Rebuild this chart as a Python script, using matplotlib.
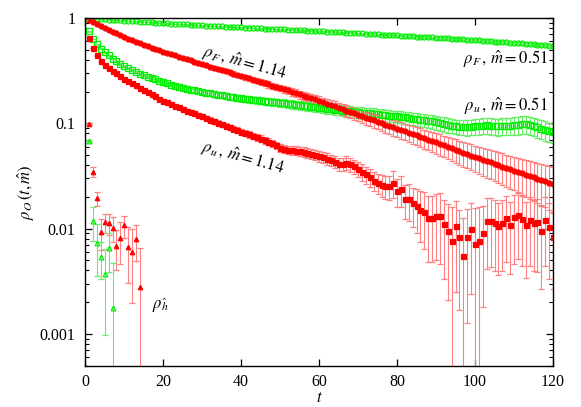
import matplotlib
matplotlib.use("Agg")
import matplotlib.pyplot as plt
import numpy as np
from matplotlib.ticker import FuncFormatter, LogLocator, NullLocator, MultipleLocator

plt.rcParams['font.family'] = ['Liberation Serif', 'DejaVu Serif']
plt.rcParams['mathtext.fontset'] = 'stix'

# time slices 0..120
t = np.arange(121)

# rho_F, m = 0.51 (green open circles)
gF = [1.000, 0.994, 0.989, 0.984, 0.978, 0.973, 0.967, 0.962, 0.956, 0.951,
      0.946, 0.940, 0.935, 0.929, 0.924, 0.918, 0.913, 0.907, 0.902, 0.896,
      0.891, 0.887, 0.883, 0.879, 0.875, 0.872, 0.868, 0.864, 0.860, 0.856,
      0.852, 0.848, 0.844, 0.840, 0.836, 0.833, 0.829, 0.825, 0.821, 0.817,
      0.813, 0.810, 0.807, 0.804, 0.800, 0.797, 0.794, 0.791, 0.788, 0.785,
      0.782, 0.778, 0.775, 0.772, 0.769, 0.766, 0.763, 0.759, 0.756, 0.753,
      0.750, 0.747, 0.743, 0.740, 0.737, 0.734, 0.730, 0.727, 0.724, 0.720,
      0.717, 0.714, 0.710, 0.707, 0.704, 0.701, 0.697, 0.694, 0.691, 0.687,
      0.684, 0.681, 0.677, 0.674, 0.671, 0.667, 0.664, 0.661, 0.657, 0.654,
      0.651, 0.647, 0.644, 0.641, 0.637, 0.634, 0.630, 0.627, 0.624, 0.620,
      0.617, 0.613, 0.610, 0.606, 0.602, 0.598, 0.595, 0.591, 0.587, 0.584,
      0.580, 0.576, 0.573, 0.569, 0.565, 0.561, 0.558, 0.554, 0.550, 0.547,
      0.543]
gF_rel = [0.000, 0.002, 0.002, 0.003, 0.003, 0.003, 0.003, 0.004, 0.004, 0.004,
          0.004, 0.004, 0.005, 0.005, 0.005, 0.005, 0.005, 0.006, 0.006, 0.006,
          0.006, 0.006, 0.006, 0.007, 0.007, 0.007, 0.007, 0.007, 0.008, 0.008,
          0.008, 0.008, 0.008, 0.008, 0.009, 0.009, 0.009, 0.009, 0.009, 0.010,
          0.010, 0.010, 0.010, 0.010, 0.010, 0.011, 0.011, 0.011, 0.011, 0.011,
          0.012, 0.012, 0.012, 0.012, 0.012, 0.012, 0.013, 0.013, 0.013, 0.013,
          0.013, 0.014, 0.014, 0.014, 0.014, 0.014, 0.015, 0.015, 0.015, 0.015,
          0.015, 0.016, 0.016, 0.016, 0.016, 0.016, 0.017, 0.017, 0.017, 0.017,
          0.017, 0.018, 0.018, 0.018, 0.018, 0.018, 0.019, 0.019, 0.019, 0.019,
          0.019, 0.020, 0.020, 0.020, 0.020, 0.020, 0.021, 0.021, 0.021, 0.021,
          0.021, 0.022, 0.022, 0.022, 0.022, 0.022, 0.023, 0.023, 0.023, 0.023,
          0.023, 0.024, 0.024, 0.024, 0.024, 0.024, 0.025, 0.025, 0.025, 0.025,
          0.025]

# rho_u, m = 0.51 (green open squares)
gU = [1.000, 0.746, 0.631, 0.562, 0.513, 0.473, 0.442, 0.412, 0.389, 0.367,
      0.347, 0.333, 0.320, 0.308, 0.296, 0.285, 0.277, 0.269, 0.261, 0.253,
      0.245, 0.239, 0.233, 0.228, 0.222, 0.216, 0.212, 0.208, 0.205, 0.201,
      0.197, 0.195, 0.192, 0.189, 0.187, 0.184, 0.182, 0.179, 0.177, 0.174,
      0.172, 0.170, 0.169, 0.167, 0.166, 0.164, 0.163, 0.161, 0.160, 0.158,
      0.157, 0.155, 0.153, 0.152, 0.150, 0.149, 0.147, 0.146, 0.144, 0.143,
      0.141, 0.140, 0.138, 0.137, 0.135, 0.134, 0.132, 0.131, 0.130, 0.128,
      0.127, 0.126, 0.125, 0.124, 0.123, 0.122, 0.121, 0.119, 0.118, 0.117,
      0.116, 0.115, 0.114, 0.112, 0.111, 0.110, 0.108, 0.107, 0.105, 0.104,
      0.102, 0.100, 0.0986, 0.0968, 0.0951, 0.0933, 0.0925, 0.0918, 0.0912, 0.0923,
      0.0933, 0.0940, 0.0948, 0.0955, 0.0946, 0.0938, 0.0933, 0.0940, 0.0946, 0.0951,
      0.0955, 0.0966, 0.0982, 0.0989, 0.0966, 0.0938, 0.0912, 0.0887, 0.0863, 0.0841,
      0.0822]
gU_rel = [0.000, 0.006, 0.008, 0.009, 0.010, 0.011, 0.012, 0.013, 0.014, 0.015,
          0.016, 0.017, 0.018, 0.019, 0.020, 0.021, 0.022, 0.023, 0.024, 0.025,
          0.026, 0.028, 0.030, 0.032, 0.034, 0.036, 0.038, 0.040, 0.042, 0.044,
          0.046, 0.048, 0.050, 0.052, 0.054, 0.056, 0.058, 0.060, 0.062, 0.064,
          0.066, 0.068, 0.070, 0.072, 0.074, 0.076, 0.078, 0.080, 0.082, 0.084,
          0.086, 0.088, 0.090, 0.092, 0.094, 0.095, 0.096, 0.097, 0.098, 0.099,
          0.100, 0.102, 0.104, 0.106, 0.108, 0.110, 0.112, 0.114, 0.116, 0.118,
          0.120, 0.121, 0.122, 0.123, 0.124, 0.125, 0.126, 0.127, 0.128, 0.129,
          0.130, 0.132, 0.134, 0.136, 0.138, 0.140, 0.142, 0.144, 0.146, 0.148,
          0.150, 0.152, 0.154, 0.156, 0.158, 0.160, 0.162, 0.164, 0.166, 0.168,
          0.170, 0.172, 0.174, 0.176, 0.178, 0.180, 0.182, 0.184, 0.186, 0.188,
          0.190, 0.192, 0.194, 0.196, 0.198, 0.200, 0.202, 0.204, 0.206, 0.208,
          0.210]

# rho_F, m = 1.14 (red filled circles)
rF = [1.000, 0.955, 0.912, 0.875, 0.839, 0.804, 0.773, 0.744, 0.715, 0.687,
      0.661, 0.638, 0.617, 0.596, 0.575, 0.556, 0.540, 0.524, 0.508, 0.493,
      0.479, 0.466, 0.453, 0.441, 0.429, 0.417, 0.406, 0.395, 0.384, 0.373,
      0.363, 0.354, 0.345, 0.337, 0.328, 0.320, 0.312, 0.304, 0.297, 0.289,
      0.282, 0.275, 0.267, 0.260, 0.254, 0.247, 0.241, 0.234, 0.228, 0.222,
      0.216, 0.210, 0.205, 0.199, 0.194, 0.188, 0.183, 0.178, 0.174, 0.169,
      0.164, 0.159, 0.154, 0.150, 0.145, 0.141, 0.136, 0.132, 0.128, 0.124,
      0.120, 0.117, 0.113, 0.110, 0.107, 0.103, 0.100, 0.0973, 0.0944, 0.0917,
      0.0891, 0.0865, 0.0839, 0.0815, 0.0791, 0.0767, 0.0745, 0.0723, 0.0701, 0.0681,
      0.0661, 0.0640, 0.0620, 0.0600, 0.0581, 0.0563, 0.0545, 0.0527, 0.0511, 0.0494,
      0.0479, 0.0465, 0.0451, 0.0438, 0.0425, 0.0412, 0.0400, 0.0388, 0.0377, 0.0366,
      0.0355, 0.0345, 0.0334, 0.0325, 0.0315, 0.0306, 0.0297, 0.0288, 0.0280, 0.0271,
      0.0263]
rF_rel = [0.000, 0.003, 0.004, 0.005, 0.006, 0.007, 0.008, 0.009, 0.010, 0.011,
          0.012, 0.013, 0.014, 0.015, 0.016, 0.017, 0.018, 0.019, 0.020, 0.021,
          0.022, 0.023, 0.024, 0.025, 0.026, 0.027, 0.028, 0.029, 0.030, 0.031,
          0.032, 0.034, 0.036, 0.038, 0.040, 0.042, 0.044, 0.046, 0.048, 0.050,
          0.052, 0.054, 0.056, 0.058, 0.060, 0.062, 0.064, 0.066, 0.068, 0.070,
          0.072, 0.075, 0.078, 0.081, 0.084, 0.087, 0.090, 0.093, 0.096, 0.099,
          0.102, 0.105, 0.108, 0.111, 0.114, 0.117, 0.120, 0.123, 0.126, 0.129,
          0.132, 0.136, 0.140, 0.144, 0.148, 0.152, 0.156, 0.160, 0.164, 0.168,
          0.172, 0.177, 0.182, 0.187, 0.192, 0.197, 0.202, 0.207, 0.212, 0.217,
          0.222, 0.228, 0.234, 0.240, 0.246, 0.252, 0.258, 0.264, 0.270, 0.276,
          0.282, 0.289, 0.296, 0.303, 0.310, 0.317, 0.324, 0.331, 0.338, 0.345,
          0.352, 0.362, 0.372, 0.382, 0.392, 0.402, 0.412, 0.422, 0.432, 0.442,
          0.452]

# rho_u, m = 1.14 (red filled squares), stored as log10
rU_log = [0.000, -0.190, -0.285, -0.355, -0.410, -0.445, -0.475, -0.500, -0.525, -0.550,
          -0.575, -0.597, -0.619, -0.641, -0.663, -0.685, -0.705, -0.725, -0.745, -0.765,
          -0.785, -0.800, -0.818, -0.835, -0.850, -0.865, -0.880, -0.893, -0.907, -0.920,
          -0.935, -0.950, -0.965, -0.980, -0.995, -1.010, -1.023, -1.037, -1.050, -1.065,
          -1.080, -1.092, -1.105, -1.120, -1.132, -1.145, -1.160, -1.175, -1.190, -1.210,
          -1.235, -1.245, -1.250, -1.255, -1.260, -1.265, -1.272, -1.280, -1.290, -1.300,
          -1.310, -1.320, -1.335, -1.350, -1.365, -1.390, -1.385, -1.375, -1.390, -1.410,
          -1.435, -1.460, -1.485, -1.510, -1.545, -1.570, -1.585, -1.595, -1.600, -1.565,
          -1.640, -1.625, -1.720, -1.720, -1.760, -1.785, -1.823, -1.846, -1.902, -1.896,
          -1.877, -1.880, -1.956, -2.020, -2.115, -1.980, -2.077, -2.260, -2.077, -2.000,
          -2.146, -2.115, -2.045, -1.925, -1.925, -1.950, -1.975, -1.950, -1.902, -1.966,
          -1.893, -1.871, -1.910, -1.970, -1.915, -1.950, -1.940, -2.020, -1.915, -1.985,
          -2.077]
rU_rel = [0.000, 0.005, 0.007, 0.009, 0.010, 0.011, 0.012, 0.013, 0.014, 0.015,
          0.016, 0.017, 0.018, 0.019, 0.020, 0.021, 0.022, 0.023, 0.024, 0.025,
          0.026, 0.027, 0.028, 0.030, 0.032, 0.034, 0.036, 0.038, 0.040, 0.042,
          0.044, 0.046, 0.048, 0.050, 0.052, 0.054, 0.056, 0.058, 0.060, 0.062,
          0.064, 0.066, 0.068, 0.070, 0.072, 0.074, 0.076, 0.078, 0.080, 0.082,
          0.085, 0.088, 0.091, 0.094, 0.097, 0.100, 0.103, 0.106, 0.109, 0.112,
          0.115, 0.120, 0.125, 0.130, 0.135, 0.140, 0.145, 0.150, 0.155, 0.160,
          0.165, 0.175, 0.185, 0.195, 0.205, 0.215, 0.230, 0.245, 0.260, 0.280,
          0.300, 0.320, 0.350, 0.380, 0.410, 0.450, 0.500, 0.550, 0.620, 0.620,
          0.620, 0.650, 0.700, 0.780, 1.100, 0.760, 0.800, 1.300, 0.850, 0.760,
          1.200, 1.100, 0.800, 0.650, 0.640, 0.650, 0.660, 0.650, 0.620, 0.660,
          0.640, 0.620, 0.640, 0.680, 0.640, 0.650, 0.660, 0.720, 0.640, 0.680,
          0.680]

# rho_h (triangles), only the first few slices are above the noise
tH_red = [0, 1, 2, 3, 4, 5, 6, 7, 8, 9, 10, 11, 12, 13, 14]
rH = [1.0, 0.098, 0.0347, 0.0194, 0.0092, 0.0115, 0.0112, 0.0101, 0.00684, 0.0081,
      0.0107, 0.00673, 0.00596, 0.0079, 0.00277]
rH_err = [0.0, 0.002, 0.004, 0.003, 0.003, 0.0024, 0.0025, 0.0027, 0.0028, 0.0035,
          0.0026, 0.0037, 0.004, 0.003, 0.0038]
tH_green = [0, 1, 2, 3, 4, 5, 6, 7]
gH = [1.0, 0.068, 0.0119, 0.00735, 0.0054, 0.00368, 0.0065, 0.00175]
gH_err = [0.0, 0.002, 0.0042, 0.0038, 0.0021, 0.0027, 0.0026, 0.003]

RED, RED_BAR = '#ff0000', '#ff8080'
GREEN, GREEN_BAR = '#00ee00', '#66ee66'

fig = plt.figure(figsize=(5.81, 4.07), dpi=100)
ax = fig.add_axes([85.3 / 581, 41 / 407, 467.7 / 581, 348 / 407])
ax.set_yscale('log')

def series(x, y, err, marker, color, barcolor, filled, ms):
    y = np.asarray(y)
    ax.errorbar(x, y, yerr=err, fmt=marker, ms=ms, mew=0.9,
                mfc=color if filled else 'none', mec=color,
                ecolor=barcolor, elinewidth=0.8, capsize=2.2, capthick=0.8)

gF_v = np.array(gF)
gU_v = np.array(gU)
rF_v = np.array(rF)
rU_v = 10.0 ** np.array(rU_log)

series(t, gF_v, gF_v * np.array(gF_rel), 'o', GREEN, GREEN_BAR, False, 3.6)
series(t, gU_v, gU_v * np.array(gU_rel), 's', GREEN, GREEN_BAR, False, 4.2)
series(t, rF_v, rF_v * np.array(rF_rel), 'o', RED, RED_BAR, True, 3.6)
series(t, rU_v, rU_v * np.array(rU_rel), 's', RED, RED_BAR, True, 3.6)
series(tH_red, rH, rH_err, '^', RED, RED_BAR, True, 3.2)
series(tH_green, gH, gH_err, '^', GREEN, GREEN_BAR, False, 3.4)

ax.set_xlim(0, 120)
ax.set_ylim(0.000495, 1)
ax.xaxis.set_major_locator(MultipleLocator(20))
ax.xaxis.set_minor_locator(NullLocator())
ax.yaxis.set_major_locator(LogLocator(base=10, numticks=10))
ax.yaxis.set_minor_locator(LogLocator(base=10, subs=np.arange(2, 10), numticks=20))
ax.yaxis.set_major_formatter(FuncFormatter(lambda v, p: f"{v:g}"))
ax.tick_params(which='both', direction='in', top=True, right=True, labelsize=11.5)
ax.tick_params(which='major', length=5, width=0.9, pad=7)
ax.tick_params(which='minor', length=2.8, width=0.8)
ax.tick_params(axis='x', which='major', pad=6)
for s in ax.spines.values():
    s.set_linewidth(1.0)

ax.set_xlabel(r'$t$', fontsize=12, labelpad=0)
ax.set_ylabel(r'$\rho_O\,(t,\hat{m})$', fontsize=12, labelpad=2)

# curve labels
ax.text(40.8, 0.374, r'$\rho_F\,,\,\hat{m}=\mathit{1.14}$', fontsize=12,
        rotation=-15.5, ha='center', va='center', rotation_mode='anchor')
ax.text(40.5, 0.0468, r'$\rho_u\,,\,\hat{m}=\mathit{1.14}$', fontsize=12,
        rotation=-15.5, ha='center', va='center', rotation_mode='anchor')
ax.text(118.7, 0.40, r'$\rho_F\,,\,\hat{m}=0.51$', fontsize=12, ha='right', va='center')
ax.text(118.7, 0.146, r'$\rho_u\,,\,\hat{m}=0.51$', fontsize=12, ha='right', va='center')
ax.text(19.2, 0.00184, r'$\rho_{\hat{h}}$', fontsize=12, ha='center', va='center')

fig.savefig('out.png', dpi=100)
